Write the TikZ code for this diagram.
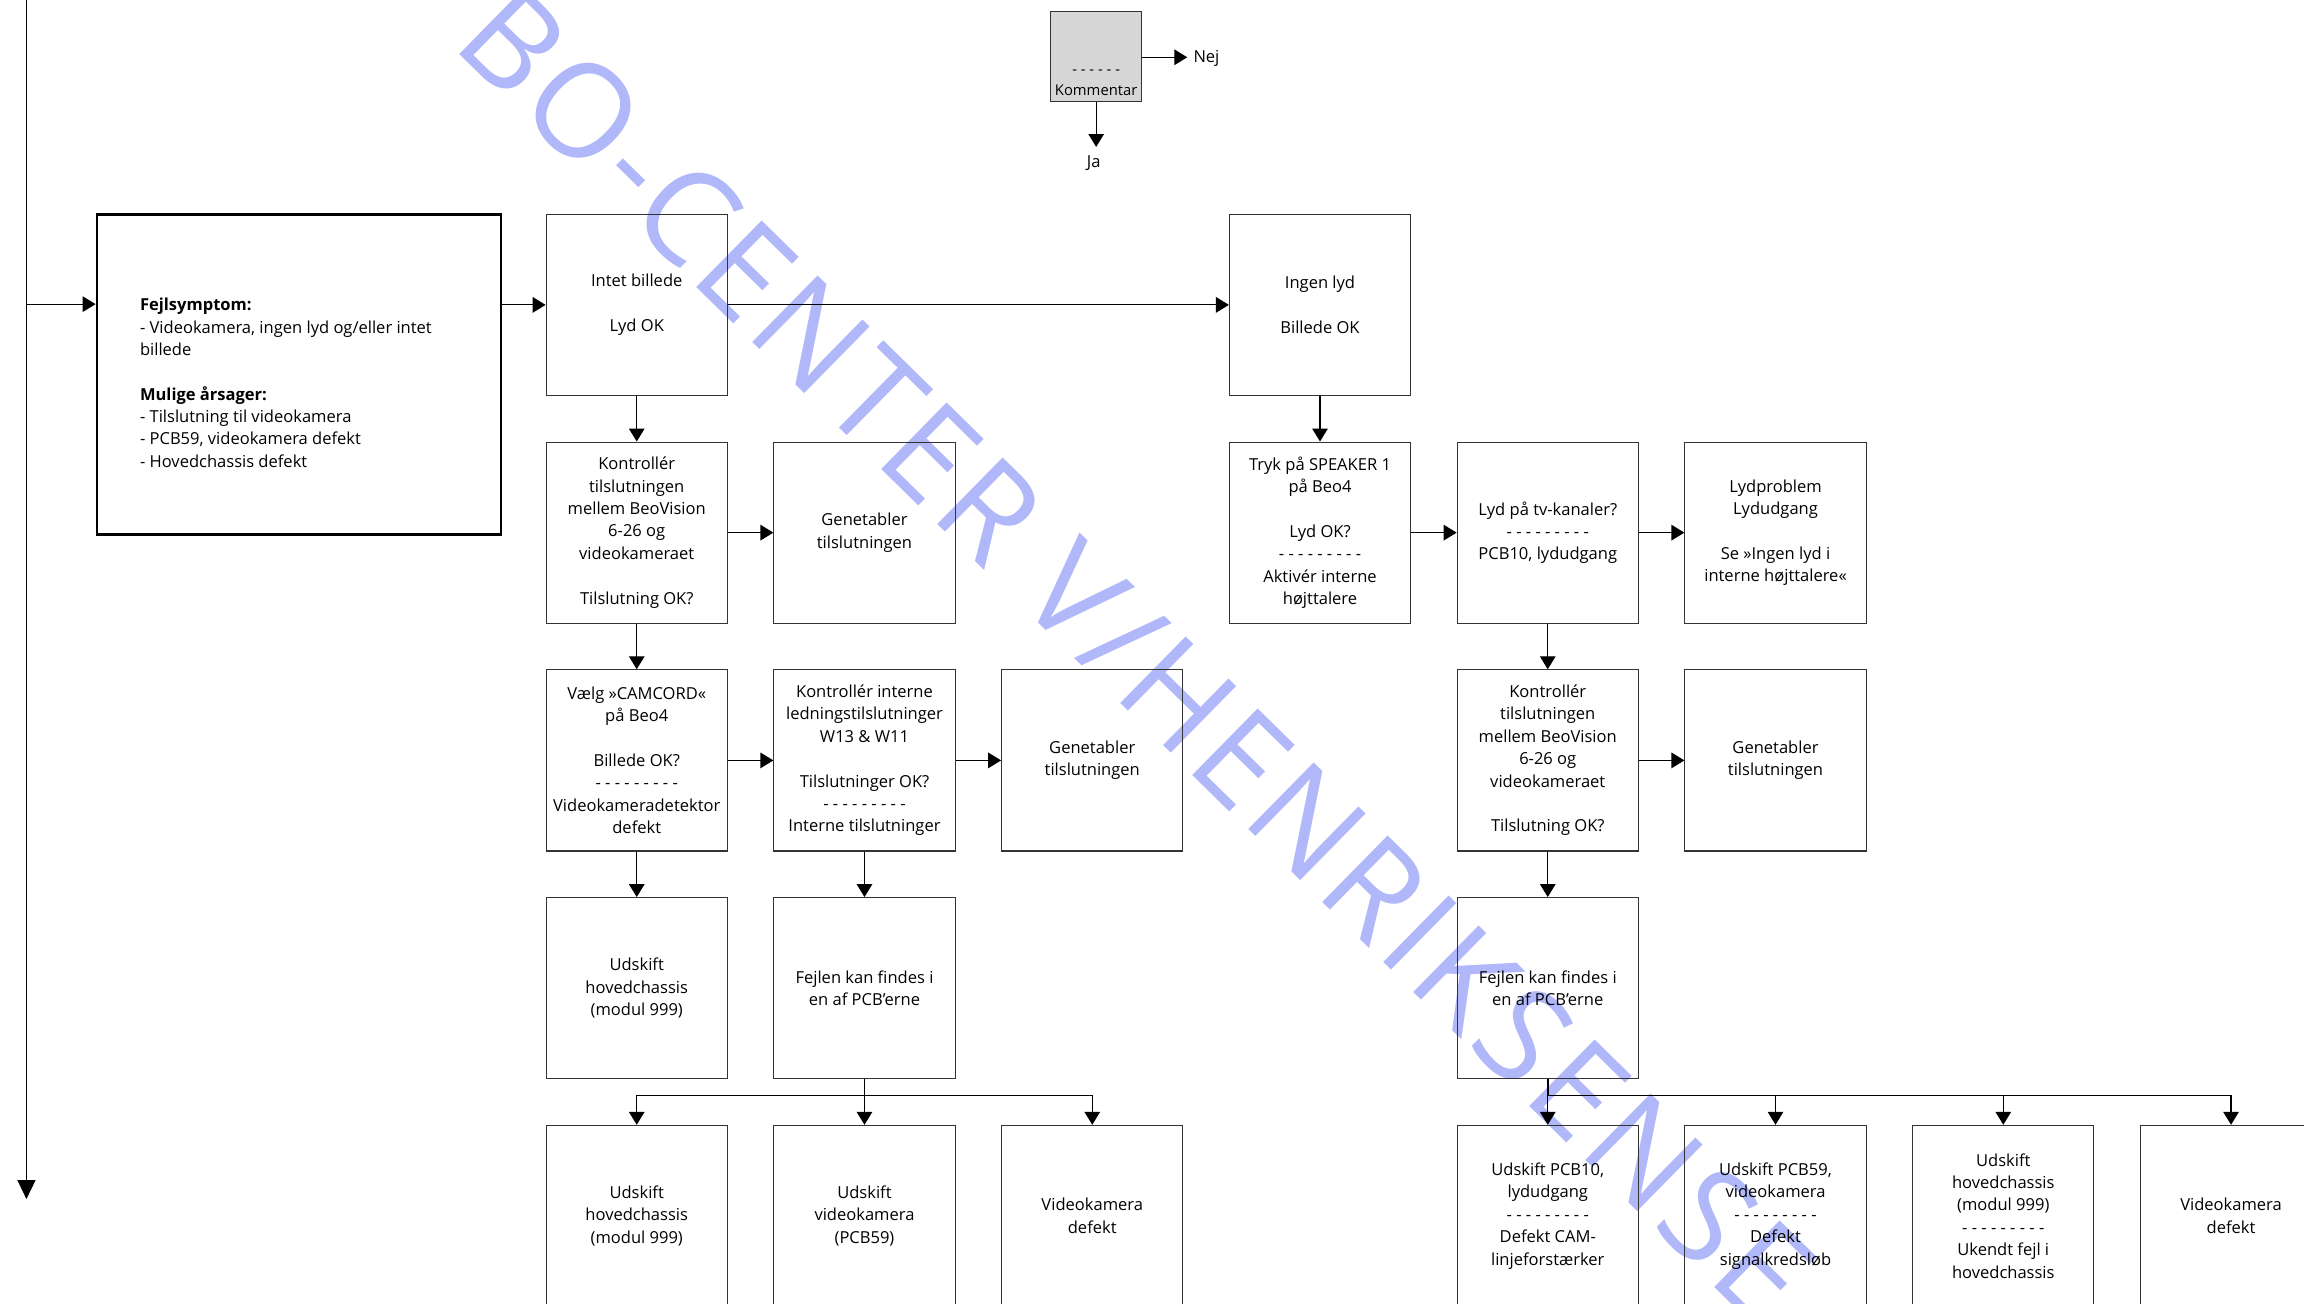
\documentclass[tikz,border=0pt]{standalone}
\usepackage{fontspec}
\setmainfont{Open Sans}
\newfontfamily\wmfont[LetterSpace=4]{Open Sans}
\usepackage{xcolor}
\usepackage{tikz}
\usetikzlibrary{arrows.meta}

\definecolor{wmblue}{HTML}{B0B8FA}
\definecolor{kommgray}{HTML}{D6D6D6}
\newcommand{\boxfont}{\fontsize{9.6}{13}\selectfont}
\newcommand{\sepline}{- - - - - - - - -}

\tikzset{
  stepbox/.style={draw=black!80, line width=0.6pt, minimum width=3.7cm, minimum height=3.7cm,
                  inner sep=1pt, align=center, font=\boxfont},
  symptombox/.style={draw=black, line width=1.6pt, minimum width=8.25cm, minimum height=6.54cm},
  legendbox/.style={draw=black!80, line width=0.6pt, fill=kommgray, minimum width=1.86cm, minimum height=1.83cm},
  flow/.style={line width=0.7pt, -{Triangle[length=7.5pt,width=9pt]}},
  bigflow/.style={line width=0.7pt, -{Triangle[length=11pt,width=10.5pt]}},
  bus/.style={line width=0.9pt},
}

\begin{document}
\begin{tikzpicture}
  \useasboundingbox (0,0) rectangle (47.04,26.61);
  \clip (0,0) rectangle (47.04,26.61);

  % Watermark
  \node[rotate=-44.5, anchor=base west, text=wmblue, font=\wmfont\fontsize{76}{76}\selectfont, inner sep=0pt]
    (watermark) at (9.2,25.68) {BO-CENTER V/HENRIKSENSE};

  % Legend box
  \node[legendbox] (komm) at (22.38,25.455) {};
  \node[anchor=south, align=center, font=\fontsize{8.6}{12}\selectfont, inner sep=0pt]
    (kommtxt) at ([yshift=0.12cm]komm.south) {- - - - - -\\Kommentar};
  \coordinate (nejend) at (24.24,25.44);
  \coordinate (jaend) at (22.38,23.61);
  \draw[flow] (komm.east |- nejend) -- (nejend);
  \draw[flow] (komm.south) -- (jaend);
  \node[anchor=base west, font=\boxfont, inner sep=0pt] (nej) at (24.36,25.33) {Nej};
  \node[font=\boxfont, inner sep=0pt] (ja) at (22.33,23.28) {Ja};

  % Symptom box
  \node[symptombox] (symptom) at (6.105,18.96) {};
  \node[anchor=west, align=left, font=\boxfont, inner sep=0pt] (symptomtxt)
    at ([xshift=0.9cm,yshift=-0.165cm]symptom.west)
    {\textbf{Fejlsymptom:}\\- Videokamera, ingen lyd og/eller intet\\billede\\[13pt]
     \textbf{Mulige årsager:}\\- Tilslutning til videokamera\\- PCB59, videokamera defekt\\- Hovedchassis defekt};

  % Row 1
  \node[stepbox] (nopic) at (13.0,20.385) {Intet billede\\[13pt]Lyd OK};
  \node[stepbox] (nosound) at (26.95,20.385) {Ingen lyd\\[13pt]Billede OK};

  % Row 2
  \node[stepbox] (checkcam) at (13.0,15.735)
    {Kontrollér\\tilslutningen\\mellem BeoVision\\6-26 og\\videokameraet\\[13pt]Tilslutning OK?};
  \node[stepbox] (redo1) at (17.65,15.735) {Genetabler\\tilslutningen};
  \node[stepbox] (speaker) at (26.95,15.735)
    {Tryk på SPEAKER 1\\på Beo4\\[13pt]Lyd OK?\\\sepline\\Aktivér interne\\højttalere};
  \node[stepbox] (tvsound) at (31.6,15.735) {Lyd på tv-kanaler?\\\sepline\\PCB10, lydudgang};
  \node[stepbox] (soundprob) at (36.25,15.735)
    {Lydproblem\\Lydudgang\\[13pt]Se »Ingen lyd i\\interne højttalere«};

  % Row 3
  \node[stepbox] (camcord) at (13.0,11.085)
    {Vælg »CAMCORD«\\på Beo4\\[13pt]Billede OK?\\\sepline\\Videokameradetektor\\defekt};
  \node[stepbox] (wires) at (17.65,11.085)
    {Kontrollér interne\\ledningstilslutninger\\W13 \& W11\\[13pt]Tilslutninger OK?\\\sepline\\Interne tilslutninger};
  \node[stepbox] (redo2) at (22.3,11.085) {Genetabler\\tilslutningen};
  \node[stepbox] (checkcam2) at (31.6,11.085)
    {Kontrollér\\tilslutningen\\mellem BeoVision\\6-26 og\\videokameraet\\[13pt]Tilslutning OK?};
  \node[stepbox] (redo3) at (36.25,11.085) {Genetabler\\tilslutningen};

  % Row 4
  \node[stepbox] (chassis1) at (13.0,6.435) {Udskift\\hovedchassis\\(modul 999)};
  \node[stepbox] (pcbfault1) at (17.65,6.435) {Fejlen kan findes i\\en af PCB’erne};
  \node[stepbox] (pcbfault2) at (31.6,6.435) {Fejlen kan findes i\\en af PCB’erne};

  % Row 5
  \node[stepbox] (chassis2) at (13.0,1.785) {Udskift\\hovedchassis\\(modul 999)};
  \node[stepbox] (camera) at (17.65,1.785) {Udskift\\videokamera\\(PCB59)};
  \node[stepbox] (camdef1) at (22.3,1.785) {Videokamera\\defekt};
  \node[stepbox] (pcb10) at (31.6,1.785)
    {Udskift PCB10,\\lydudgang\\\sepline\\Defekt CAM-\\linjeforstærker};
  \node[stepbox] (pcb59) at (36.25,1.785)
    {Udskift PCB59,\\videokamera\\\sepline\\Defekt\\signalkredsløb};
  \node[stepbox] (chassis3) at (40.9,1.785)
    {Udskift\\hovedchassis\\(modul 999)\\\sepline\\Ukendt fejl i\\hovedchassis};
  \node[stepbox] (camdef2) at (45.55,1.785) {Videokamera\\defekt};

  % Feed line on the left
  \coordinate (feedtop) at (0.54,26.8);
  \coordinate (feedbranch) at (0.54,20.4);
  \coordinate (feedend) at (0.54,2.13);
  \draw[bigflow] (feedtop) -- (feedend);
  \draw[flow] (feedbranch) -- (feedbranch -| symptom.west);
  \draw[flow] (symptom.east |- nopic.west) -- (nopic.west);

  % Left branch
  \draw[flow] (nopic.east) -- (nosound.west);
  \draw[flow] (nopic) -- (checkcam);
  \draw[flow] (checkcam) -- (redo1);
  \draw[flow] (checkcam) -- (camcord);
  \draw[flow] (camcord) -- (wires);
  \draw[flow] (camcord) -- (chassis1);
  \draw[flow] (wires) -- (redo2);
  \draw[flow] (wires) -- (pcbfault1);
  \draw[bus] (pcbfault1.south) -- ++(0,-0.33) coordinate (busleft);
  \draw[bus] (busleft -| chassis2) -- (busleft -| camdef1);
  \draw[flow] (busleft -| chassis2) -- (chassis2.north);
  \draw[flow] (busleft -| camera) -- (camera.north);
  \draw[flow] (busleft -| camdef1) -- (camdef1.north);

  % Right branch
  \draw[flow] (nosound) -- (speaker);
  \draw[flow] (speaker) -- (tvsound);
  \draw[flow] (tvsound) -- (soundprob);
  \draw[flow] (tvsound) -- (checkcam2);
  \draw[flow] (checkcam2) -- (redo3);
  \draw[flow] (checkcam2) -- (pcbfault2);
  \draw[bus] (pcbfault2.south) -- ++(0,-0.33) coordinate (busright);
  \draw[bus] (busright -| pcb10) -- (busright -| camdef2);
  \draw[flow] (busright -| pcb10) -- (pcb10.north);
  \draw[flow] (busright -| pcb59) -- (pcb59.north);
  \draw[flow] (busright -| chassis3) -- (chassis3.north);
  \draw[flow] (busright -| camdef2) -- (camdef2.north);
\end{tikzpicture}
\end{document}
